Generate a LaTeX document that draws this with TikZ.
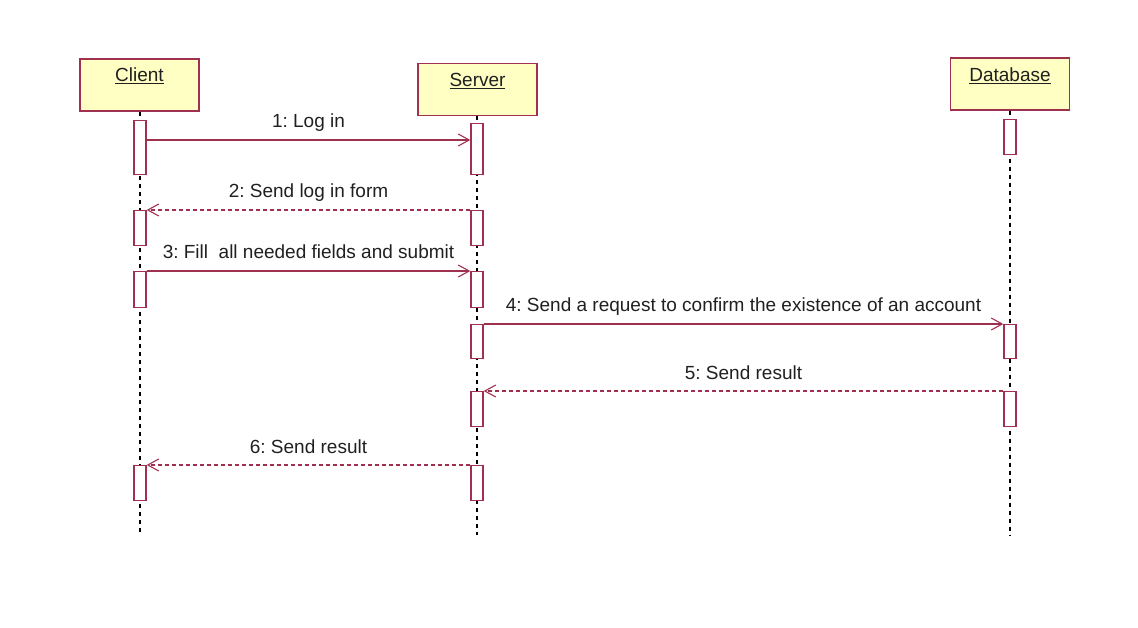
\documentclass[tikz,border=0pt]{standalone}
\usepackage{fontspec}
\setmainfont{Liberation Sans}
\usetikzlibrary{arrows.meta,calc}
\definecolor{umlline}{HTML}{A0304F}
\definecolor{umlfill}{HTML}{FFFFC4}
\definecolor{umltext}{HTML}{202020}
\frenchspacing
\begin{document}
\begin{tikzpicture}[x=1pt,y=-1pt,
  actor/.style={draw=umlline,fill=umlfill,line width=1.3pt,minimum width=119pt,minimum height=52pt,inner sep=0pt},
  actortext/.style={anchor=base,text=umltext,font=\fontsize{19}{23}\selectfont,inner sep=0pt},
  bar/.style={draw=umlline,fill=white,line width=1.3pt,minimum width=12pt,inner sep=0pt,anchor=north},
  life/.style={draw=black,line width=1.1pt,dash pattern=on 4pt off 4pt},
  msg/.style={draw=umlline,line width=1.2pt,-{Straight Barb[length=11pt,width=12pt,line width=1.1pt]}},
  reply/.style={msg,dash pattern=on 4pt off 3pt},
  lbl/.style={anchor=base,text=umltext,font=\fontsize{19}{23}\selectfont,inner sep=0pt,yshift=12pt}
]
\useasboundingbox (0,0) rectangle (1138,628);
% actors
\node[actor] (client) at (139.5,85) {};
\node[actor] (server) at (477.5,89.5) {};
\node[actor] (db) at (1010,84) {};
\node[actortext] (clientt) at ([yshift=-23pt]client.north) {\underline{Client}};
\node[actortext] (servert) at ([yshift=-24pt]server.north) {\underline{Server}};
\node[actortext] (dbt) at ([yshift=-24pt]db.north) {\underline{Database}};
% lifeline ends
\coordinate (cend) at (140,535);
\coordinate (send) at (477,535);
\coordinate (dend) at (1010,535);
\draw[life] (client.south -| cend) -- (cend);
\draw[life] (server.south -| send) -- (send);
\draw[life] (db.south -| dend) -- (dend);
% activation bars
\node[bar,minimum height=54pt] (c1) at (140,120) {};
\node[bar,minimum height=35pt] (c2) at (140,210) {};
\node[bar,minimum height=36pt] (c3) at (140,271) {};
\node[bar,minimum height=35pt] (c4) at (140,465) {};
\node[bar,minimum height=51pt] (s1) at (477,123) {};
\node[bar,minimum height=35pt] (s2) at (477,210) {};
\node[bar,minimum height=36pt] (s3) at (477,271) {};
\node[bar,minimum height=34pt] (s4) at (477,324) {};
\node[bar,minimum height=35pt] (s5) at (477,391) {};
\node[bar,minimum height=35pt] (s6) at (477,465) {};
\node[bar,minimum height=35pt] (d1) at (1010,119) {};
\node[bar,minimum height=34pt] (d2) at (1010,324) {};
\node[bar,minimum height=35pt] (d3) at (1010,391) {};
% messages
\coordinate (m1s) at ($(c1.north east)+(0,20)$);
\draw[msg] (m1s) -- node[lbl] {1: Log in} (m1s -| s1.west);
\draw[reply] (s2.north west) -- node[lbl] {2: Send log in form} (c2.north east);
\draw[msg] (c3.north east) -- node[lbl] {3: Fill \ all needed fields and submit} (s3.north west);
\draw[msg] (s4.north east) -- node[lbl] {4: Send a request to confirm the existence of an account} (d2.north west);
\draw[reply] (d3.north west) -- node[lbl] {5: Send result} (s5.north east);
\draw[reply] (s6.north west) -- node[lbl] {6: Send result} (c4.north east);
\end{tikzpicture}
\end{document}
